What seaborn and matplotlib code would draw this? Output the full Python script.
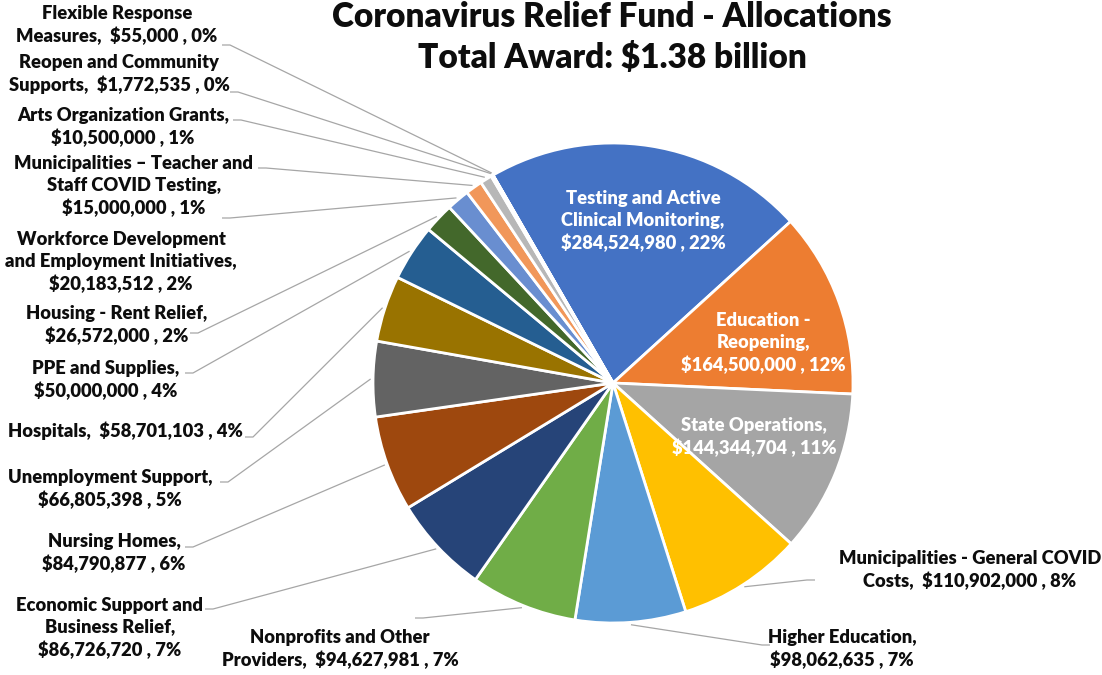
import numpy as np
import matplotlib
matplotlib.use("Agg")
import matplotlib.pyplot as plt
import seaborn as sns

# data
names = ["Testing and Active Clinical Monitoring", "Education - Reopening", "State Operations",
         "Municipalities - General COVID Costs", "Higher Education", "Nonprofits and Other Providers",
         "Economic Support and Business Relief", "Nursing Homes", "Unemployment Support", "Hospitals",
         "PPE and Supplies", "Housing - Rent Relief", "Workforce Development and Employment Initiatives",
         "Municipalities \u2013 Teacher and Staff COVID Testing", "Arts Organization Grants",
         "Reopen and Community Supports", "Flexible Response Measures"]
amounts = [284524980, 164500000, 144344704, 110902000, 98062635, 94627981,
           86726720, 84790877, 66805398, 58701103, 50000000, 26572000,
           20183512, 15000000, 10500000, 1772535, 55000]
slice_colors = ["#4472C4", "#ED7D31", "#A5A5A5", "#FFC000", "#5B9BD5", "#70AD47",
                "#264478", "#9E480E", "#636363", "#997300", "#255E91", "#43682B",
                "#698ED0", "#F1975A", "#B7B7B7", "#FFCD33", "#7CAFDD"]
title_lines = ["Coronavirus Relief Fund - Allocations", "Total Award: $1.38 billion"]

# how each label is wrapped (name with breaks, separator before the amount)
wrapped = ["Testing and Active\nClinical Monitoring", "Education -\nReopening", "State Operations",
           "Municipalities - General COVID\nCosts", "Higher Education", "Nonprofits and Other\nProviders",
           "Economic Support and\nBusiness Relief", "Nursing Homes", "Unemployment Support", "Hospitals",
           "PPE and Supplies", "Housing - Rent Relief", "Workforce Development\nand Employment Initiatives",
           "Municipalities \u2013 Teacher and\nStaff COVID Testing", "Arts Organization Grants",
           "Reopen and Community\nSupports", "Flexible Response\nMeasures"]
seps = ["\n", "\n", "\n", "  ", "\n", "  ", "\n", "\n", "\n", "  ", "\n", "\n", "\n", "\n", "\n", "  ", "  "]

# label placement in pixels: (center x, center y), leader anchor (or None for inside labels)
label_pos = [(643, 221), (763, 343), (754, 437), (970, 570), (842, 649), (340, 649),
             (110, 628), (114, 553), (110, 489), (125, 431), (106, 380), (117, 325),
             (121, 262), (134, 186), (123, 127), (119, 74), (117, 25)]
anchors = [None, None, None, (815, 580), (770, 645), (415, 618),
           (205, 609), (185, 547), (220, 482), (245, 437), (185, 373), (190, 333),
           (222, 218), (258, 168), (233, 120), (230, 92), (222, 45)]

sns.set_theme(style="white")
plt.rcParams["font.family"] = ["Lato", "DejaVu Sans"]

CX, CY, R = 613, 383, 240
W, H = 1102, 675


def px(x, y):
    return (x - CX) / R, (CY - y) / R


fig = plt.figure(figsize=(W / 100, H / 100), dpi=100)
ax = fig.add_axes([0, 0, 1, 1])
pal = sns.color_palette(slice_colors)
wedges, _ = ax.pie(amounts, colors=pal, startangle=120, counterclock=False,
                   wedgeprops=dict(edgecolor="white", linewidth=2))
ax.set_xlim(px(0, 0)[0], px(W, 0)[0])
ax.set_ylim(px(0, H)[1], px(0, 0)[1])
ax.set_aspect("auto")
ax.axis("off")

total = sum(amounts)
for i, w in enumerate(wedges):
    pct = round(amounts[i] / total * 100)
    txt = f"{wrapped[i]},{seps[i]}${amounts[i]:,} , {pct}%"
    lx, ly = px(*label_pos[i])
    inside = anchors[i] is None
    ax.text(lx, ly, txt, ha="center", va="center", fontsize=13.2, fontweight="heavy",
            color="white" if inside else "#0d0d0d", linespacing=1.35)
    if not inside:
        mid = np.deg2rad((w.theta1 + w.theta2) / 2)
        ex, ey = 1.01 * np.cos(mid), 1.01 * np.sin(mid)
        axp, ayp = anchors[i]
        step = 8 if axp < CX else -8
        p0 = px(axp, ayp)
        p1 = px(axp + step, ayp)
        ax.plot([p0[0], p1[0], ex], [p0[1], p1[1], ey], color="#A6A6A6", lw=0.9,
                solid_capstyle="butt")

ax.text(*px(612, 17), title_lines[0], ha="center", va="center", fontsize=24,
        fontweight="heavy", color="#0d0d0d")
ax.text(*px(612, 58), title_lines[1], ha="center", va="center", fontsize=24,
        fontweight="heavy", color="#0d0d0d")

fig.savefig("out.png", dpi=100)
